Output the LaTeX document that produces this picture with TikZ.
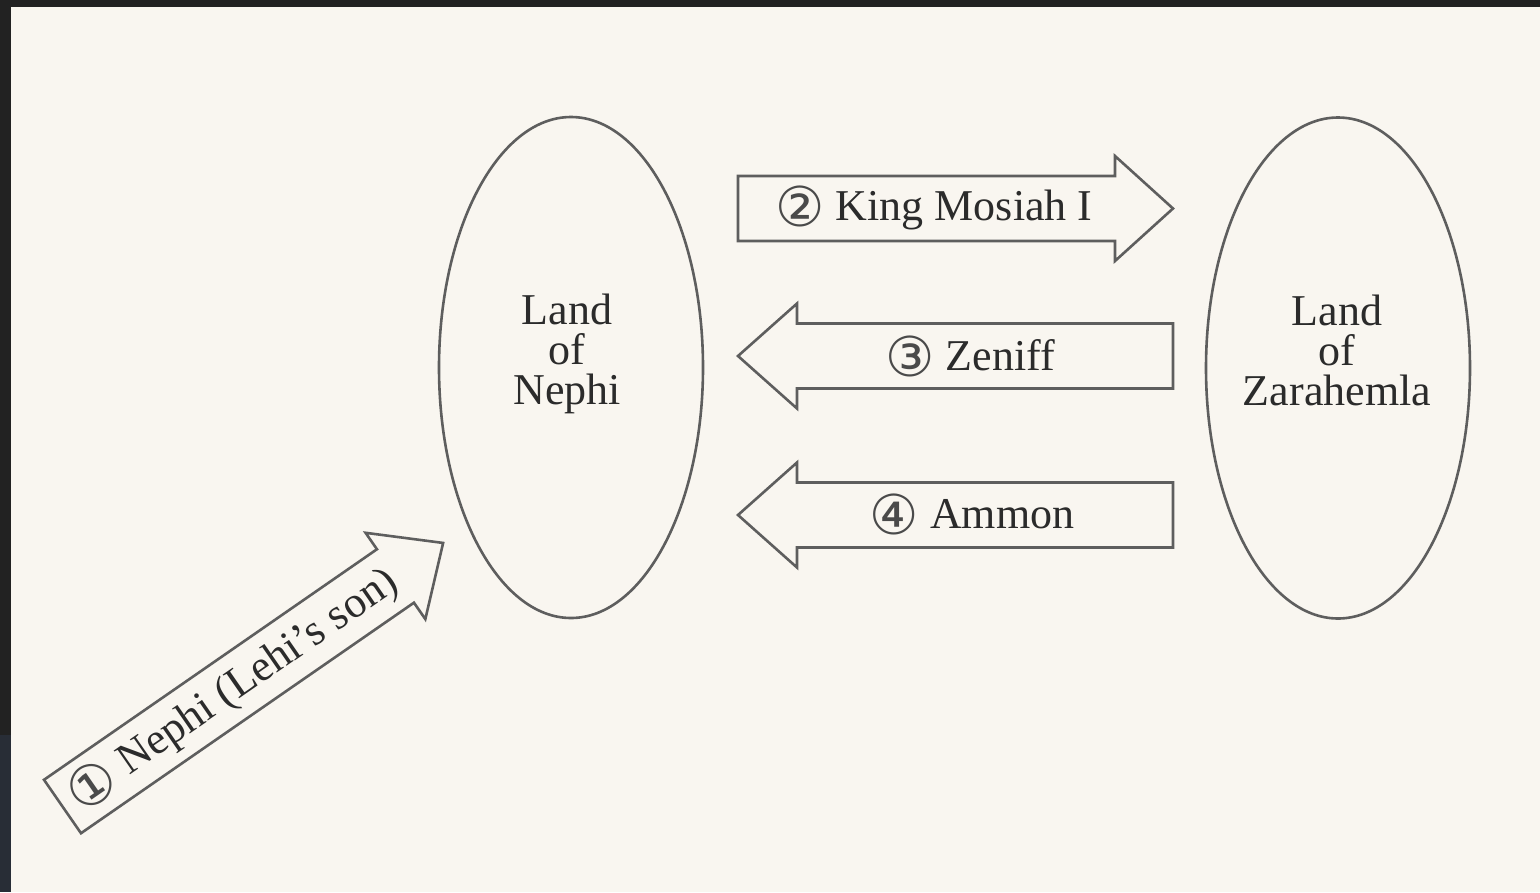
\documentclass[tikz,border=0pt]{standalone}
\usepackage{fontspec}
\setmainfont{Liberation Serif}
\newfontfamily\circfont{DejaVu Sans}
\usetikzlibrary{shapes.geometric}
\definecolor{bg}{HTML}{F9F6F0}
\definecolor{frame}{HTML}{222222}
\definecolor{frameb}{HTML}{282D36}
\definecolor{ink}{HTML}{5E5E5E}
\definecolor{txt}{HTML}{2B2B2B}
\definecolor{circink}{HTML}{4A4A4A}
\newcommand{\circd}[1]{\raisebox{-6pt}{\textcolor{circink}{\circfont\fontsize{55}{55}\selectfont #1}}}
\begin{document}
\begin{tikzpicture}[x=1pt,y=-1pt,
  outline/.style={draw=ink, line width=2.6pt, line join=miter},
  land/.style={ellipse, draw=ink, line width=2.6pt, minimum width=264pt, minimum height=501pt, inner sep=0pt},
  lbl/.style={text=txt, font=\fontsize{44}{40}\selectfont, inner sep=0pt},
]
\useasboundingbox (0,0) rectangle (1540,892);
\fill[bg] (0,0) rectangle (1540,892);
\fill[frame] (0,0) rectangle (1540,7);
\fill[frame] (0,0) rectangle (11,735);
\fill[frameb] (0,735) rectangle (11,892);

% lands
\node[land] (nephi) at (571,367.5) {};
\node[land] (zara) at (1338,368) {};
\node[lbl, align=center, anchor=north] (nephitxt) at (567,294) {Land\\of\\Nephi};
\node[lbl, align=center, anchor=north] (zaratxt) at (1337,295) {Land\\of\\Zarahemla};

% arrow 2
\draw[outline] (738,176) -- (1115,176) -- (1115,156) -- (1173,208.5) -- (1115,261) -- (1115,241) -- (738,241) -- cycle;
\node[lbl, anchor=base] (mosiah) at (934,220) {\circd{②} King Mosiah I};

% arrow 3
\draw[outline] (1173,323.5) -- (797,323.5) -- (797,303.5) -- (738,356) -- (797,408.5) -- (797,388.5) -- (1173,388.5) -- cycle;
\node[lbl, anchor=base] (zeniff) at (970,370) {\circd{③} Zeniff};

% arrow 4
\draw[outline] (1173,482.5) -- (797,482.5) -- (797,462.5) -- (738,515) -- (797,567.5) -- (797,547.5) -- (1173,547.5) -- cycle;
\node[lbl, anchor=base] (ammon) at (972,528) {\circd{④} Ammon};

% arrow 1
\begin{scope}[shift={(62.5,806.5)}, rotate=34.7]
\draw[outline] (0,-32.5) -- (405,-32.5) -- (405,-52.5) -- (463,0) -- (405,52.5) -- (405,32.5) -- (0,32.5) -- cycle;
\node[lbl, rotate=34.7] (nephison) at (207,0) {\circd{①} Nephi (Lehi’s son)};
\end{scope}
\end{tikzpicture}
\end{document}
